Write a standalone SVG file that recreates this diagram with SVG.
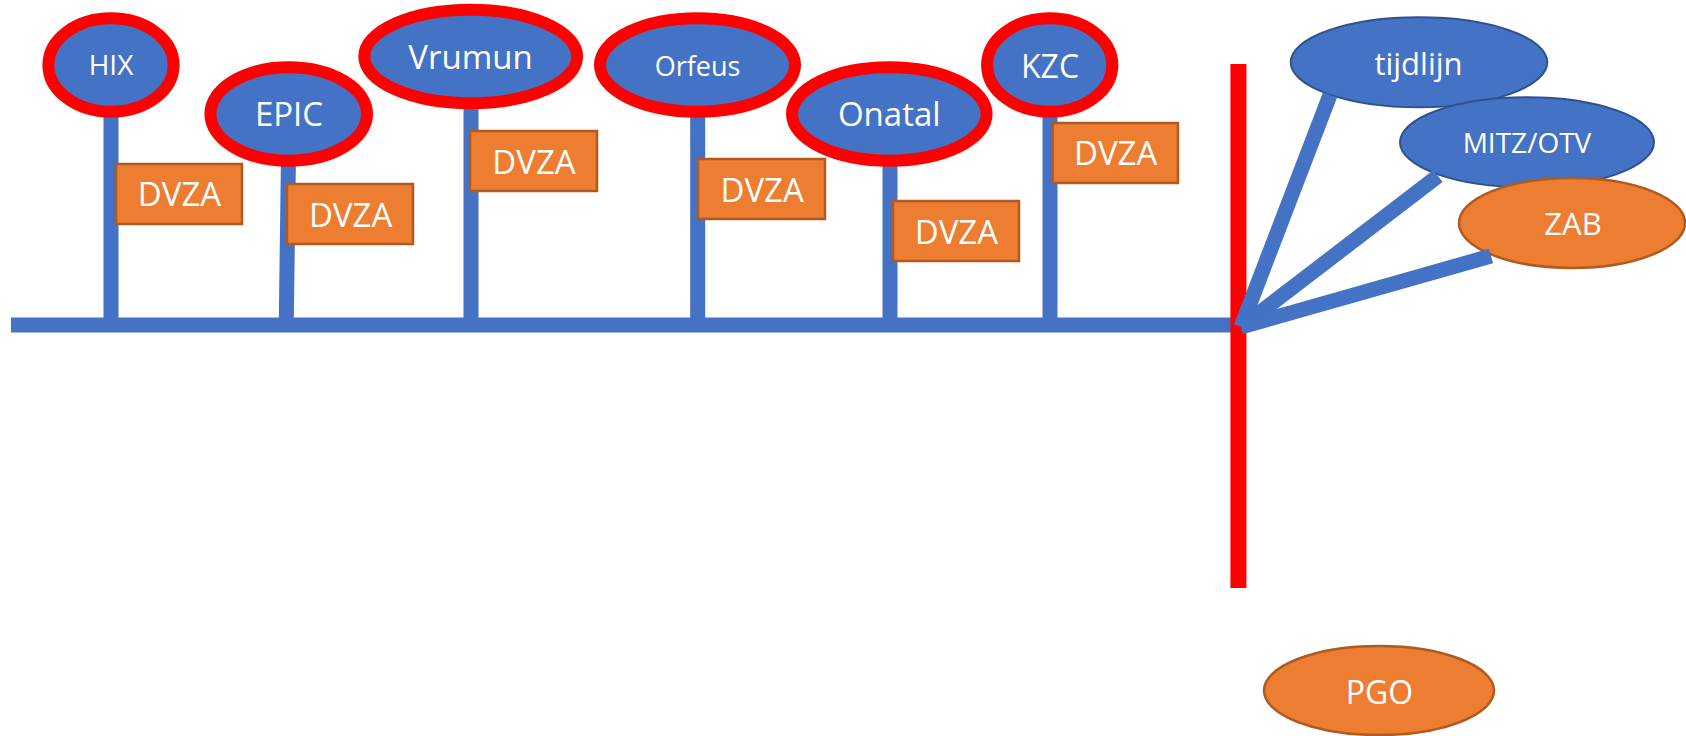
<svg xmlns="http://www.w3.org/2000/svg" width="1686" height="736" viewBox="0 0 1686 736">
<style>
.bl{stroke:#4472C4;stroke-width:15;fill:none}
.rn{fill:#4472C4;stroke:#FF0000;stroke-width:12}
.bn{fill:#4472C4;stroke:#2F528F;stroke-width:2}
.on{fill:#ED7D31;stroke:#AE5A21;stroke-width:2.5}
.t{font-family:"Open Sans","Noto Sans",sans-serif;fill:#FFFFFF;text-anchor:middle}
</style>
<rect width="1686" height="736" fill="#FFFFFF"/>
<g id="tijdlijn"><ellipse class="bn" cx="1419" cy="62.3" rx="128.3" ry="45"/><text class="t" x="1418.5" y="75" font-size="31">tijdlijn</text></g>
<g id="mitz"><ellipse class="bn" cx="1527" cy="142.3" rx="127" ry="45"/><text class="t" x="1527" y="153" font-size="28">MITZ/OTV</text></g>
<g id="zab"><ellipse class="on" cx="1572" cy="223" rx="113" ry="45" stroke-width="2"/><text class="t" x="1573" y="235" font-size="31">ZAB</text></g>
<g id="pgo"><ellipse class="on" cx="1379" cy="690.5" rx="115" ry="44.5" stroke-width="2"/><text class="t" x="1379.5" y="704" font-size="32">PGO</text></g>
<g id="connectors">
<line class="bl" x1="11" y1="325" x2="1238" y2="325" stroke-width="16"/>
<line class="bl" x1="111" y1="105" x2="111" y2="320"/>
<line class="bl" x1="288.5" y1="155" x2="286.3" y2="320"/>
<line class="bl" x1="471" y1="98" x2="471" y2="320"/>
<line class="bl" x1="697.7" y1="105" x2="697.7" y2="320"/>
<line class="bl" x1="890" y1="155" x2="890" y2="320"/>
<line class="bl" x1="1050" y1="105" x2="1050" y2="320"/>
<line x1="1238.4" y1="64" x2="1238.4" y2="588" stroke="#FF0000" stroke-width="16"/>
<line class="bl" x1="1241" y1="327" x2="1330" y2="95"/>
<line class="bl" x1="1241" y1="327" x2="1438" y2="176"/>
<line class="bl" x1="1241" y1="327" x2="1491" y2="256"/>
</g>
<g id="hix"><ellipse class="rn" cx="111" cy="65" rx="62.6" ry="46.7"/><text class="t" x="111" y="75" font-size="28">HIX</text></g>
<g id="epic"><ellipse class="rn" cx="288.7" cy="114" rx="78.3" ry="46.7"/><text class="t" x="289" y="126" font-size="33">EPIC</text></g>
<g id="vrumun"><ellipse class="rn" cx="470.7" cy="56.5" rx="106.4" ry="46.7"/><text class="t" x="470.5" y="69" font-size="33">Vrumun</text></g>
<g id="orfeus"><ellipse class="rn" cx="697.5" cy="65" rx="97.5" ry="46.7"/><text class="t" x="697.5" y="76" font-size="27">Orfeus</text></g>
<g id="onatal"><ellipse class="rn" cx="889.3" cy="114" rx="97.3" ry="46.7"/><text class="t" x="889.3" y="126" font-size="33">Onatal</text></g>
<g id="kzc"><ellipse class="rn" cx="1049.7" cy="65" rx="62.6" ry="46.7"/><text class="t" x="1050" y="78" font-size="32">KZC</text></g>
<g id="dvza1"><rect class="on" x="116" y="164" width="126" height="60"/><text class="t" x="179.5" y="206" font-size="33">DVZA</text></g>
<g id="dvza2"><rect class="on" x="287" y="184" width="126" height="60"/><text class="t" x="350.6" y="227" font-size="33">DVZA</text></g>
<g id="dvza3"><rect class="on" x="470" y="131" width="127" height="60"/><text class="t" x="534" y="174" font-size="33">DVZA</text></g>
<g id="dvza4"><rect class="on" x="698" y="159" width="127" height="60"/><text class="t" x="762.2" y="202" font-size="33">DVZA</text></g>
<g id="dvza5"><rect class="on" x="893" y="201" width="126" height="60"/><text class="t" x="956.4" y="244" font-size="33">DVZA</text></g>
<g id="dvza6"><rect class="on" x="1052.6" y="123" width="125.4" height="60"/><text class="t" x="1115.7" y="165" font-size="33">DVZA</text></g>
</svg>
